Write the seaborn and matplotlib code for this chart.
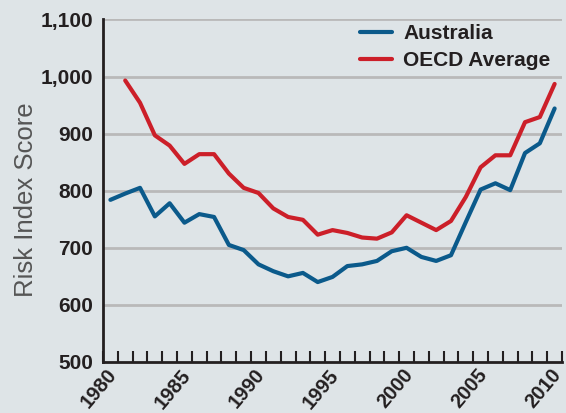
import matplotlib
matplotlib.use("Agg")
import matplotlib.pyplot as plt
import matplotlib.transforms as mtransforms
import seaborn as sns
import pandas as pd
import numpy as np

years = list(range(1980, 2011))
australia = [784, 795, 805, 755, 778, 744, 759, 754, 705, 696, 671, 659, 650, 656,
             640, 649, 668, 671, 677, 694, 700, 684, 677, 687, 745, 802, 813, 801,
             866, 883, 944]
oecd_years = list(range(1981, 2011))
oecd = [993, 954, 897, 879, 847, 864, 864, 830, 805, 796, 769, 754, 749, 723,
        731, 726, 718, 716, 727, 757, 744, 731, 747, 789, 841, 862, 862, 920,
        929, 987]
label_years = [1980, 1985, 1990, 1995, 2000, 2005, 2010]
y_ticks = [500, 600, 700, 800, 900, 1000, 1100]

bg = "#dee4e7"
blue = "#0b5a8b"
red = "#cc1f29"
ink = "#231f20"

sns.set_theme(style="white")
plt.rcParams["font.family"] = ["Liberation Sans", "DejaVu Sans"]

df = pd.concat([
    pd.DataFrame({"year": years, "value": australia, "series": "Australia"}),
    pd.DataFrame({"year": oecd_years, "value": oecd, "series": "OECD Average"}),
])

fig = plt.figure(figsize=(5.66, 4.13), dpi=100, facecolor=bg)
ax = fig.add_axes([0.182, 0.1235, 0.811, 0.8295])
ax.set_facecolor(bg)

sns.lineplot(data=df, x="year", y="value", hue="series",
             palette={"Australia": blue, "OECD Average": red},
             linewidth=3.0, ax=ax, zorder=3)

ax.set_xlim(1979.5, 2010.5)
ax.set_ylim(500, 1100)
ax.set_yticks(y_ticks)
ax.set_yticklabels([f"{v:,}" for v in y_ticks], fontsize=15, fontweight="bold",
                   color=ink)
for v in y_ticks[1:]:
    ax.axhline(v, color="#b9b9b9", linewidth=2, zorder=1)

# year ticks at category boundaries; labels drawn as rotated text under each year
ax.set_xticks([y + 0.5 for y in range(1979, 2011)])
ax.set_xticklabels([])
ax.tick_params(axis="x", which="both", direction="in", length=8, width=1.5,
               color=ink, bottom=True)
ax.tick_params(axis="y", length=0, pad=7)

trans = mtransforms.blended_transform_factory(ax.transData, ax.transAxes)
offset = mtransforms.ScaledTranslation(-4.5 / 100, -3.5 / 100, fig.dpi_scale_trans)
for y in label_years:
    ax.text(y, 0, str(y), transform=trans + offset, rotation=50,
            rotation_mode="anchor", ha="right", va="top", fontsize=14.5,
            fontweight="bold", color=ink, clip_on=False)

for s in ["top", "right"]:
    ax.spines[s].set_visible(False)
for s in ["left", "bottom"]:
    ax.spines[s].set_color(ink)
    ax.spines[s].set_linewidth(2)

ax.set_xlabel("")
ax.set_ylabel("Risk Index Score", fontsize=18.5, color="#555555")
ax.yaxis.set_label_coords(-0.142, 0.473)

leg = ax.legend(loc="upper left", bbox_to_anchor=(0.56, 0.987), frameon=False,
                fontsize=15, handlelength=1.55, handletextpad=0.53,
                labelspacing=0.41, borderaxespad=0, borderpad=0)
for t in leg.get_texts():
    t.set_fontweight("bold")
    t.set_color(ink)
for l in leg.get_lines():
    l.set_linewidth(3.0)

fig.savefig("out.png", dpi=100, facecolor=bg)
